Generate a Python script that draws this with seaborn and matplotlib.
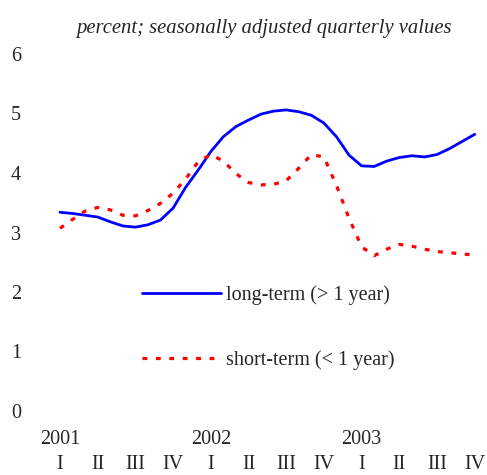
import numpy as np
import pandas as pd
import matplotlib
matplotlib.use('Agg')
import matplotlib.pyplot as plt
import seaborn as sns

# monthly steps, 2001 Q-I .. 2003 Q-IV
months = np.arange(34)
long_term = [3.34, 3.32, 3.29, 3.26, 3.18, 3.11, 3.09, 3.13, 3.21, 3.41, 3.76,
             4.05, 4.36, 4.61, 4.78, 4.89, 4.99, 5.04, 5.06, 5.03, 4.97, 4.84,
             4.61, 4.30, 4.12, 4.11, 4.20, 4.26, 4.29, 4.27, 4.31, 4.41, 4.53, 4.65]
short_term = [3.07, 3.22, 3.36, 3.42, 3.38, 3.29, 3.28, 3.37, 3.49, 3.66, 3.90,
              4.19, 4.31, 4.20, 3.99, 3.84, 3.80, 3.81, 3.87, 4.08, 4.31, 4.27,
              3.79, 3.24, 2.76, 2.61, 2.72, 2.80, 2.77, 2.72, 2.68, 2.66, 2.64, 2.62]
labels = ['long-term (> 1 year)', 'short-term (< 1 year)']
years = ['2001', '2002', '2003']
quarters = ['I', 'II', 'III', 'IV']

df = pd.concat([
    pd.DataFrame({'month': months, 'value': long_term, 'series': labels[0]}),
    pd.DataFrame({'month': months, 'value': short_term, 'series': labels[1]}),
])

sns.set_theme(style='white')
plt.rcParams['font.family'] = ['Liberation Serif', 'DejaVu Serif']

fig = plt.figure(figsize=(4.87, 4.75), dpi=100)
ax = fig.add_axes([60/487, 64/475, 414.7/487, 357/475])

sns.lineplot(data=df, x='month', y='value', hue='series', style='series', size='series',
             palette={labels[0]: '#0000ff', labels[1]: '#ff0000'},
             dashes={labels[0]: '', labels[1]: (1.5, 2.7)},
             sizes={labels[0]: 2.0, labels[1]: 2.3},
             errorbar=None, ax=ax, clip_on=False)

ax.set_xlim(0, 33)
ax.set_ylim(0, 6)
ax.set_yticks(range(7))
ax.tick_params(axis='y', length=0, pad=28, labelsize=14.5)

ticks = list(range(0, 34, 3))
tick_labels = []
for i, t in enumerate(ticks):
    top = years[i // 4] if i % 4 == 0 else ''
    tick_labels.append(top + '\n' + quarters[i % 4])
ax.set_xticks(ticks)
ax.set_xticklabels(tick_labels, linespacing=1.4)
ax.tick_params(axis='x', length=0, pad=14, labelsize=14.5)
ax.set_xlabel('')
ax.set_ylabel('')
for s in ax.spines.values():
    s.set_visible(False)

ax.legend(loc='upper left', bbox_to_anchor=(82/414.7, 1 - 231/357), frameon=False,
          fontsize=14.5, handlelength=3.9, handletextpad=0.25, labelspacing=2.25,
          borderpad=0, borderaxespad=0)

fig.text(264/487, 1 - 28/475, 'percent; seasonally adjusted quarterly values',
         ha='center', va='center', fontsize=14.9, style='italic')

fig.savefig('out.png', dpi=100, facecolor='white')
